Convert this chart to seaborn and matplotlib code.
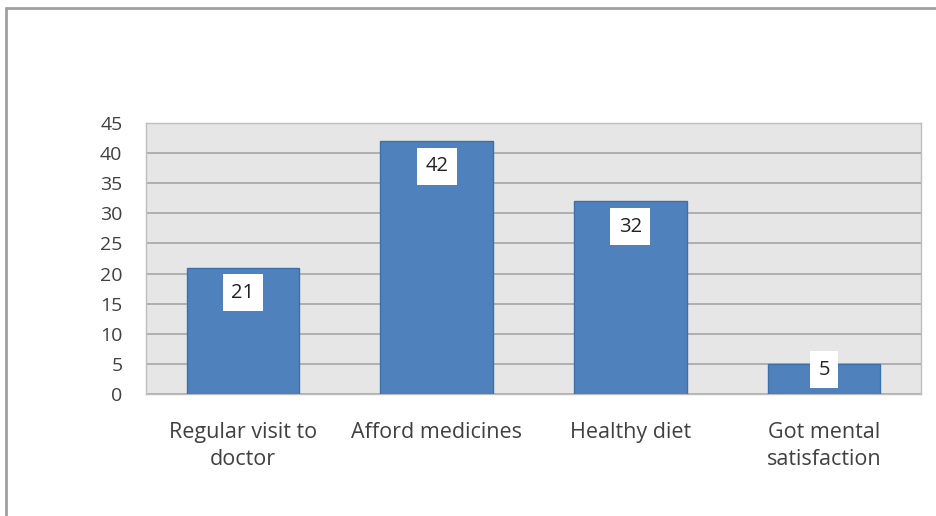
import matplotlib
matplotlib.use("Agg")
import matplotlib.pyplot as plt
import seaborn as sns
import pandas as pd
from matplotlib.lines import Line2D

categories = ["Regular visit to\ndoctor", "Afford medicines", "Healthy diet", "Got mental\nsatisfaction"]
values = [21, 42, 32, 5]
yticks = [0, 5, 10, 15, 20, 25, 30, 35, 40, 45]

sns.set_theme(style="white")
plt.rcParams['font.family'] = ['Open Sans', 'DejaVu Sans']

df = pd.DataFrame({"category": categories, "value": values})

fig = plt.figure(figsize=(9.36, 5.16), dpi=100)
W, H = 936, 516
ax = fig.add_axes([146 / W, 1 - 394 / H, (921 - 146) / W, (394 - 123) / H])
ax.set_facecolor("#e6e6e6")

sns.barplot(data=df, x="category", y="value", ax=ax, color="#4f81bd",
            width=0.58, edgecolor="#3f6fa8", linewidth=1.0, saturation=1, zorder=3)

ax.set_ylim(0, 45)
ax.set_xlim(-0.5, 3.5)
ax.set_yticks(yticks)
ax.set_yticklabels([str(t) for t in yticks], fontsize=14, color="#404040")
ax.set_xticks(range(len(categories)))
ax.set_xticklabels(categories, fontsize=15.5, color="#404040", linespacing=1.4)
ax.tick_params(axis="x", length=0, pad=20)
ax.tick_params(axis="y", length=0, pad=17)
ax.set_xlabel("")
ax.set_ylabel("")
ax.yaxis.grid(True, color="#a6a6a6", linewidth=1.2, zorder=1)
ax.set_axisbelow(True)
for s in ax.spines.values():
    s.set_color("#bdbdbd")
    s.set_linewidth(1.0)

for i, v in enumerate(values):
    ly = max(v - 4.2, 4.0)
    ax.text(i, ly, str(v), ha="center", va="center", fontsize=14.5, color="#222222", zorder=5,
            bbox=dict(boxstyle="square,pad=0.42", facecolor="white", edgecolor="none"))

# outer chart frame (left and top edges visible)
fig.add_artist(Line2D([6 / W, 6 / W], [0, 1 - 8 / H], color="#a0a0a0", linewidth=2.0))
fig.add_artist(Line2D([6 / W, 1], [1 - 8 / H, 1 - 8 / H], color="#a0a0a0", linewidth=2.0))

fig.savefig("out.png", dpi=100, facecolor="white")
